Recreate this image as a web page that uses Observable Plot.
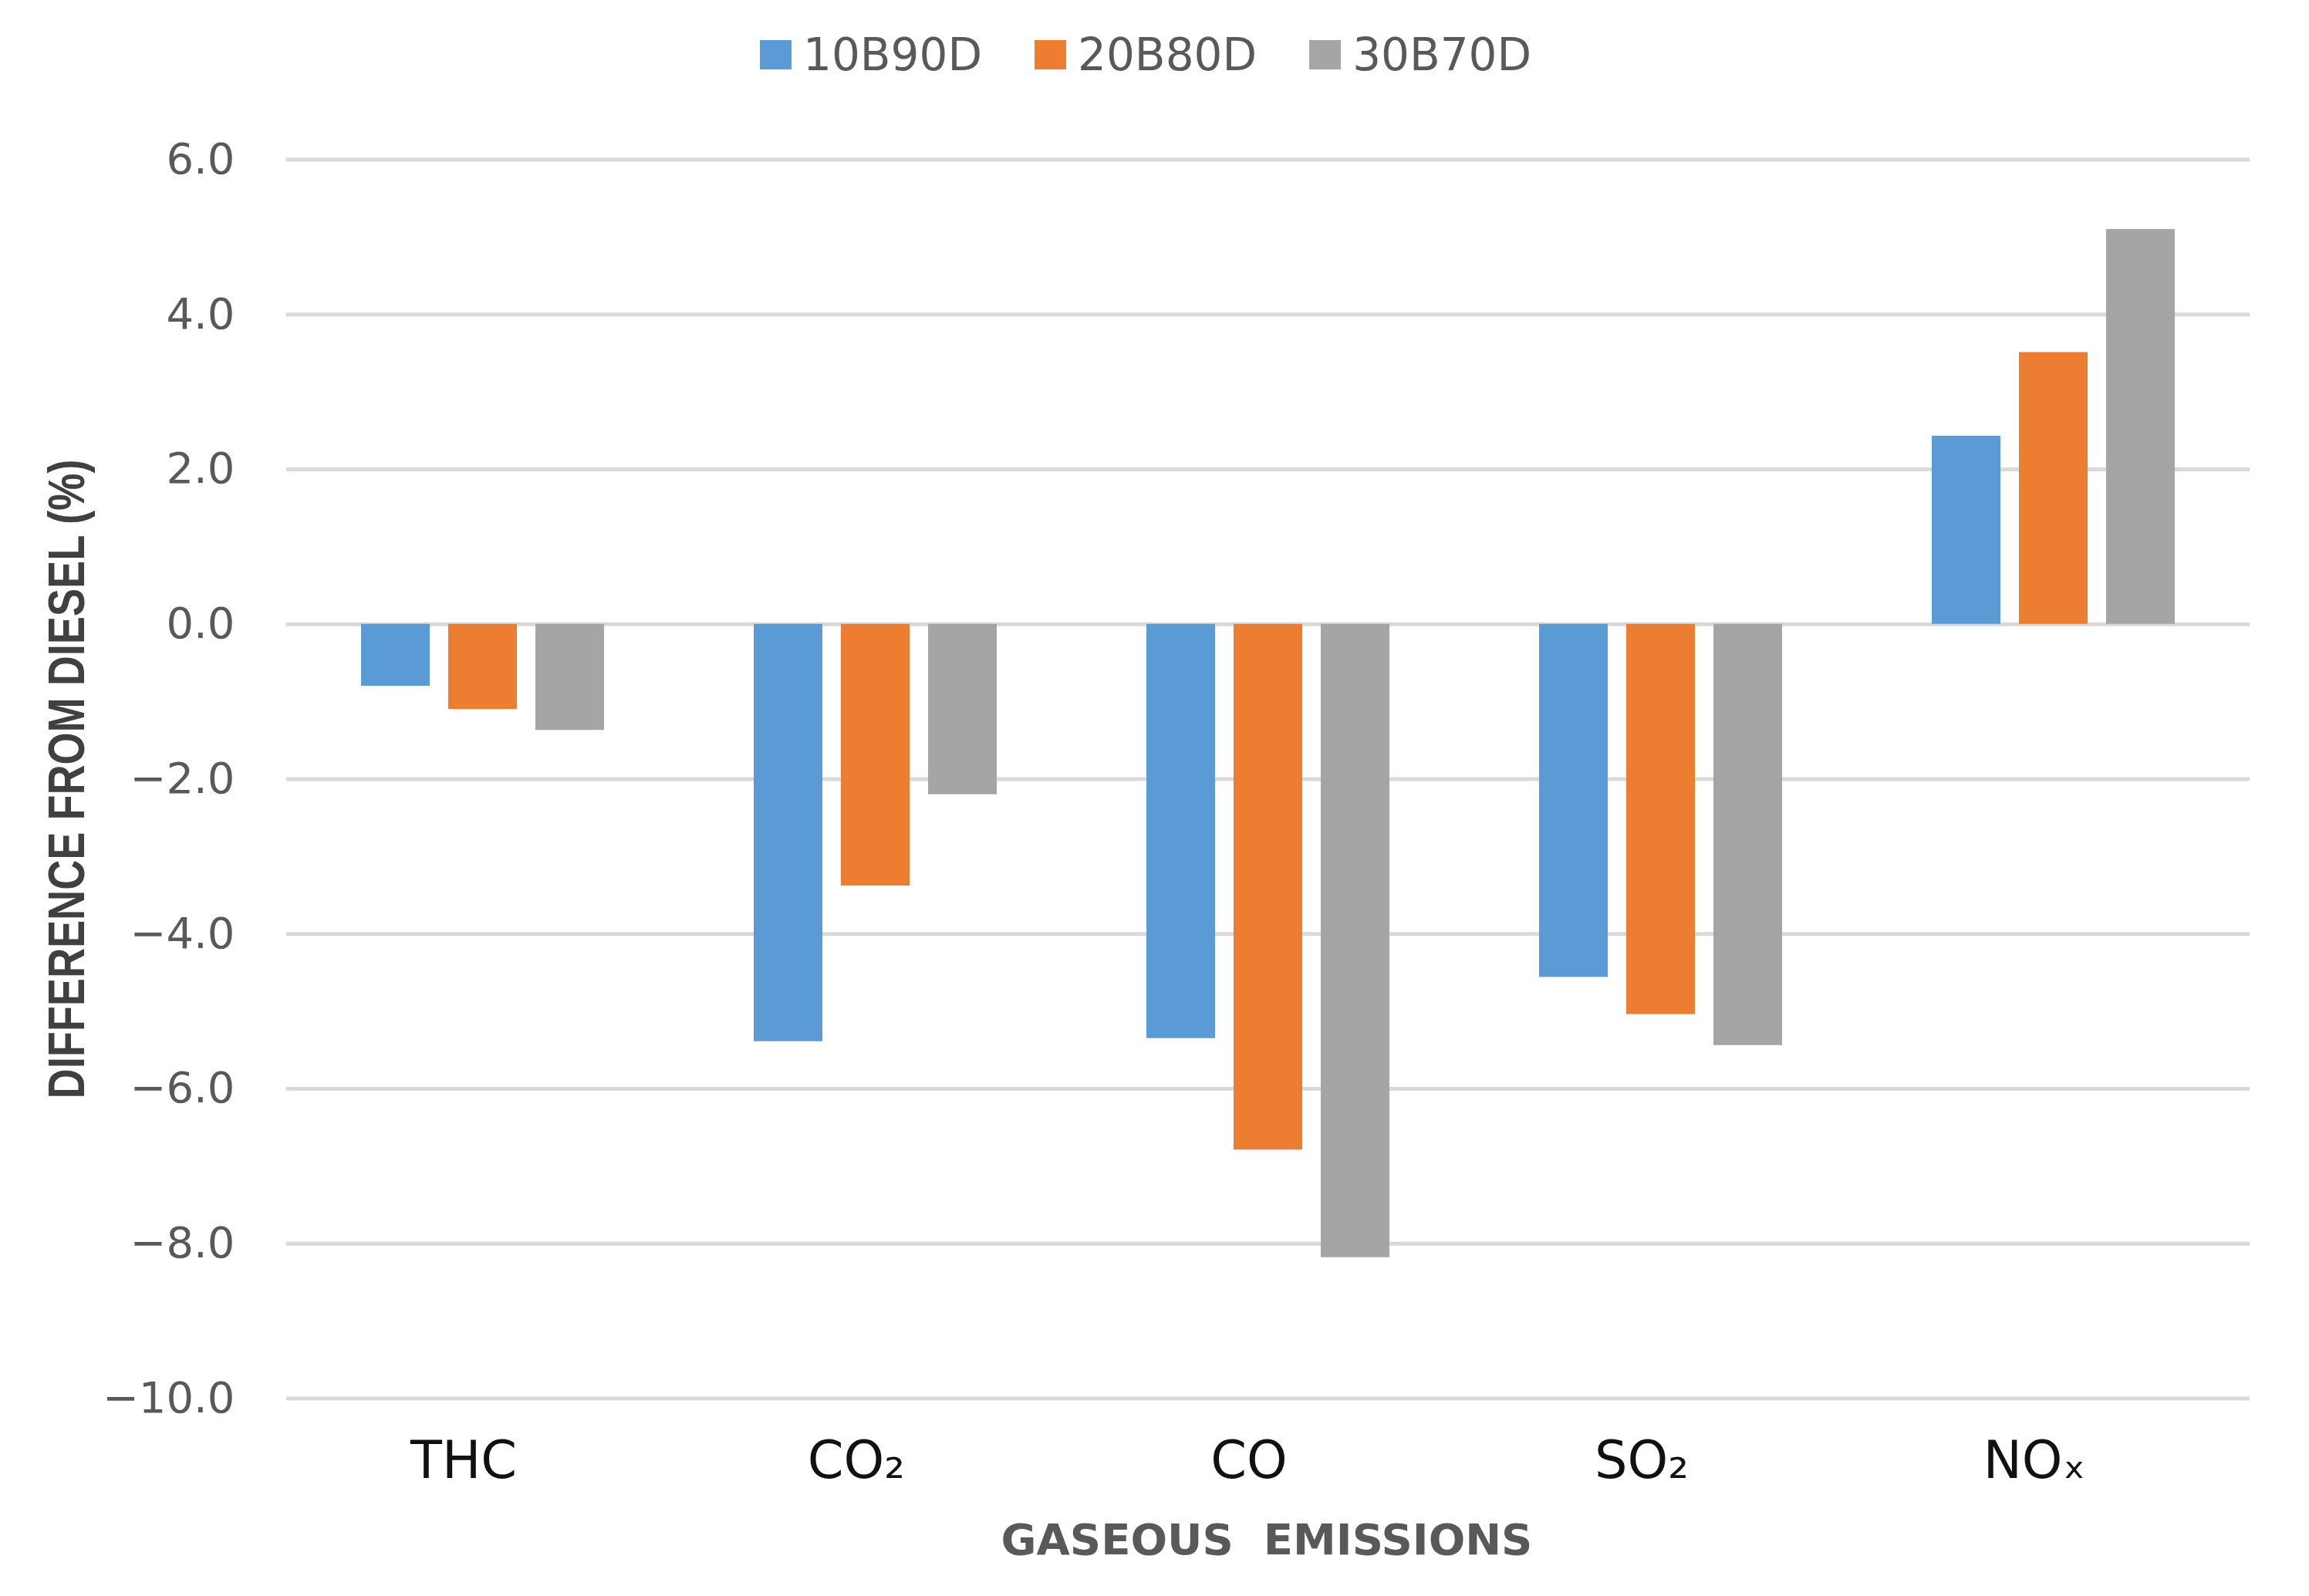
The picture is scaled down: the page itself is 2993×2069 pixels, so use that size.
<!DOCTYPE html>
<html>
<head>
<meta charset="utf-8">
<script src="https://cdn.jsdelivr.net/npm/d3@7"></script>
<script src="https://cdn.jsdelivr.net/npm/@observablehq/plot@0.6"></script>
<style>
  html, body { margin: 0; padding: 0; background: #fff; }
  #wrap { position: relative; width: 2993px; height: 2069px; overflow: hidden; font-family: "DejaVu Sans", sans-serif; }
  #legend { position: absolute; left: 985px; top: 36px; height: 70px; display: flex; align-items: center; }
  .item { display: flex; align-items: center; margin-right: 68px; }
  .sw { width: 41px; height: 38px; margin-right: 15px; }
  .lt { font-size: 58px; color: #595959; line-height: 1; }
  #chart { position: absolute; left: 0; top: 140px; }
  #ylabel { position: absolute; left: 86px; top: 1010px; transform: translate(-50%, -50%) rotate(-90deg) scale(0.82, 1); font-family: "Liberation Sans", Arial, sans-serif; font-weight: bold; font-size: 66px; color: #404040; white-space: nowrap; line-height: 1; }
  #xlabel { position: absolute; left: 1642px; top: 1996px; transform: translate(-50%, -50%); font-family: "DejaVu Sans", sans-serif; font-weight: bold; font-size: 56px; color: #595959; white-space: pre; line-height: 1; }
</style>
</head>
<body>
<div id="wrap">
  <div id="legend"></div>
  <div id="chart"></div>
  <div id="ylabel">DIFFERENCE FROM DIESEL (%)</div>
  <div id="xlabel">GASEOUS  EMISSIONS</div>
</div>
<script>
const categories = ["THC", "CO₂", "CO", "SO₂", "NOₓ"];
const series = ["10B90D", "20B80D", "30B70D"];
const values10B90D = [-0.80, -5.39, -5.35, -4.56, 2.43];
const values20B80D = [-1.10, -3.38, -6.79, -5.04, 3.51];
const values30B70D = [-1.37, -2.20, -8.18, -5.44, 5.10];
const colors = ["#5B9BD5", "#ED7D31", "#A5A5A5"];
const yTicks = [-10, -8, -6, -4, -2, 0, 2, 4, 6];

const seriesValues = [values10B90D, values20B80D, values30B70D];
const data = [];
categories.forEach((c, i) => {
  series.forEach((s, j) => {
    data.push({cat: c, series: s, value: seriesValues[j][i]});
  });
});

const fmt = d => (d < 0 ? "\u2212" : "") + Math.abs(d).toFixed(1);

const plot = Plot.plot({
  width: 2993,
  height: 1800,
  marginTop: 66.5,
  marginBottom: 127.5,
  marginLeft: 370,
  marginRight: 77,
  style: {fontFamily: "DejaVu Sans, sans-serif", background: "#fff"},
  fx: {domain: categories, paddingInner: 0, paddingOuter: 0, axis: null, label: null},
  x: {domain: series, paddingInner: 0.2105, paddingOuter: 0.838, axis: null},
  y: {domain: [-10, 6], axis: null},
  color: {domain: series, range: colors},
  marks: [
    Plot.gridY(yTicks, {stroke: "#D9D9D9", strokeOpacity: 1, strokeWidth: 5}),
    Plot.barY(data, {fx: "cat", x: "series", y1: 0, y2: "value", fill: "series"}),
    Plot.axisY(yTicks, {tickSize: 0, tickPadding: 67, tickFormat: fmt, fontSize: 56, fill: "#595959", label: null}),
    Plot.axisFx({anchor: "bottom", tickSize: 0, tickPadding: 55, fontSize: 67, fill: "#111", dx: -25, label: null})
  ]
});
document.getElementById("chart").appendChild(plot);

const legend = document.getElementById("legend");
series.forEach((s, i) => {
  const item = document.createElement("div");
  item.className = "item";
  const sw = document.createElement("div");
  sw.className = "sw";
  sw.style.background = colors[i];
  const t = document.createElement("span");
  t.className = "lt";
  t.textContent = s;
  item.appendChild(sw);
  item.appendChild(t);
  legend.appendChild(item);
});
</script>
</body>
</html>
